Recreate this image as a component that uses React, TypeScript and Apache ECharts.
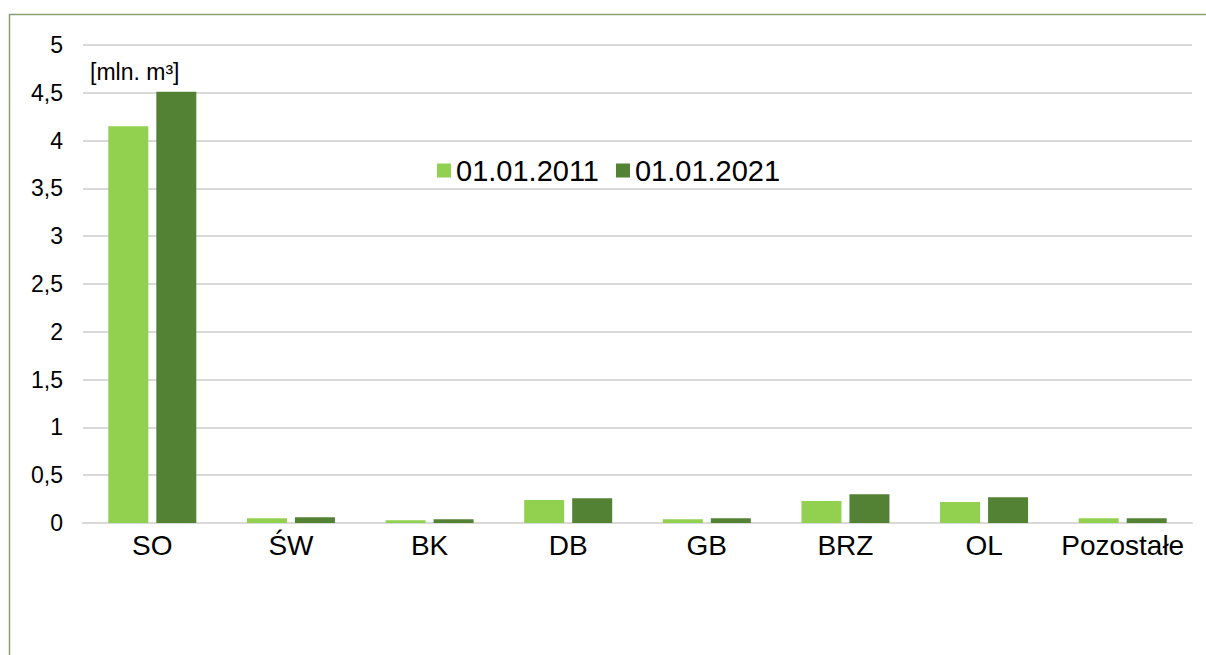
import React, { useEffect, useRef } from "react";
import * as echarts from "echarts";

const categories = ["SO", "ŚW", "BK", "DB", "GB", "BRZ", "OL", "Pozostałe"];
const series2011 = [4.15, 0.05, 0.03, 0.24, 0.04, 0.23, 0.22, 0.05];
const series2021 = [4.51, 0.06, 0.04, 0.26, 0.05, 0.30, 0.27, 0.05];
const seriesNames = ["01.01.2011", "01.01.2021"];
const unitLabel = "[mln. m³]";

export default function App() {
  const ref = useRef<HTMLDivElement>(null);
  useEffect(() => {
    if (!ref.current) return;
    const chart = echarts.init(ref.current, null, { renderer: "svg" });
    const font = "'Liberation Sans', Arial, sans-serif";
    chart.setOption({
      animation: false,
      textStyle: { fontFamily: font },
      grid: { left: 83, right: 14, top: 45, bottom: 132, containLabel: false },
      legend: {
        left: 432,
        top: 151,
        itemWidth: 14,
        itemHeight: 14,
        itemGap: 17,
        icon: "rect",
        textStyle: { fontSize: 29, color: "#000", fontFamily: font },
        data: seriesNames,
      },
      xAxis: {
        type: "category",
        data: categories,
        axisLine: { show: true, lineStyle: { color: "#d9d9d9", width: 2 } },
        axisTick: { show: false },
        axisLabel: { fontSize: 28, color: "#000", margin: 8, fontFamily: font, interval: 0 },
      },
      yAxis: {
        type: "value",
        min: 0,
        max: 5,
        interval: 0.5,
        axisLine: { show: false },
        axisTick: { show: false },
        splitLine: { lineStyle: { color: "#d9d9d9", width: 2 } },
        axisLabel: {
          fontSize: 23,
          color: "#000",
          margin: 20,
          fontFamily: font,
          formatter: (v: number) => String(v).replace(".", ","),
        },
      },
      series: [
        {
          name: seriesNames[0],
          type: "bar",
          data: series2011,
          barWidth: 40,
          barGap: "20%",
          itemStyle: { color: "#92d050" },
        },
        {
          name: seriesNames[1],
          type: "bar",
          data: series2021,
          barWidth: 40,
          barGap: "20%",
          itemStyle: { color: "#548235" },
        },
      ],
      graphic: [
        {
          type: "rect",
          left: 7,
          top: 12,
          shape: { x: 0, y: 0, width: 1250, height: 700 },
          style: { fill: "none", stroke: "#86a073", lineWidth: 1.5 },
          silent: true,
          z: -1,
        },
        {
          type: "text",
          x: 90,
          y: 72,
          style: {
            text: unitLabel,
            fontSize: 23,
            fontFamily: font,
            fill: "#000",
            verticalAlign: "middle",
          },
        },
      ],
    });
    return () => chart.dispose();
  }, []);
  return (
    <div
      ref={ref}
      style={{ position: "absolute", left: 0, top: 0, width: 1206, height: 655, background: "#fff" }}
    />
  );
}
